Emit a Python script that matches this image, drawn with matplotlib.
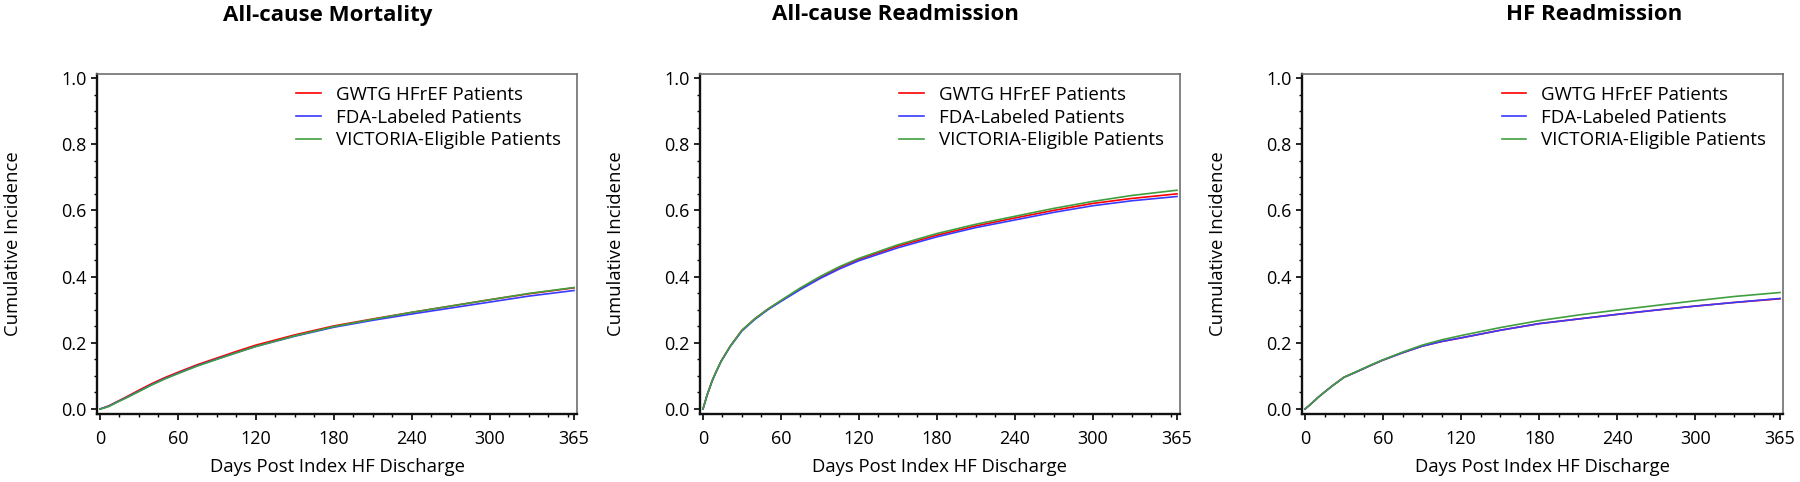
import matplotlib
matplotlib.use("Agg")
import matplotlib.pyplot as plt
from matplotlib.ticker import MultipleLocator

plt.rcParams["font.family"] = ["Open Sans", "DejaVu Sans"]

titles = ["All-cause Mortality", "All-cause Readmission", "HF Readmission"]
series_names = ["GWTG HFrEF Patients", "FDA-Labeled Patients", "VICTORIA-Eligible Patients"]
series_colors = ["#ff0000", "#3a3aff", "#3f9f3f"]

days = [0, 3, 7, 10, 14, 21, 30, 40, 50, 60, 75, 90, 105, 120, 150, 180, 210, 240, 270, 300, 330, 365]

# All-cause mortality
mort_gwtg = [0.0, 0.004, 0.010, 0.016, 0.024, 0.038, 0.057, 0.077, 0.095, 0.111, 0.134, 0.154, 0.174,
             0.193, 0.224, 0.251, 0.272, 0.292, 0.311, 0.330, 0.348, 0.366]
mort_fda = [0.0, 0.004, 0.009, 0.015, 0.023, 0.036, 0.054, 0.074, 0.092, 0.108, 0.131, 0.151, 0.170,
            0.189, 0.220, 0.247, 0.268, 0.287, 0.305, 0.323, 0.341, 0.358]
mort_vic = [0.0, 0.003, 0.008, 0.014, 0.022, 0.035, 0.053, 0.073, 0.091, 0.107, 0.130, 0.150, 0.170,
            0.189, 0.221, 0.249, 0.271, 0.292, 0.311, 0.330, 0.349, 0.367]

# All-cause readmission
read_gwtg = [0.0, 0.040, 0.085, 0.112, 0.145, 0.190, 0.238, 0.273, 0.302, 0.327, 0.364, 0.397, 0.427,
             0.452, 0.492, 0.525, 0.553, 0.577, 0.600, 0.621, 0.636, 0.650]
read_fda = [0.0, 0.040, 0.084, 0.111, 0.144, 0.189, 0.236, 0.271, 0.300, 0.325, 0.361, 0.394, 0.423,
            0.448, 0.487, 0.520, 0.548, 0.571, 0.594, 0.614, 0.629, 0.642]
read_vic = [0.0, 0.040, 0.085, 0.112, 0.145, 0.190, 0.238, 0.273, 0.302, 0.328, 0.366, 0.400, 0.430,
            0.455, 0.496, 0.530, 0.558, 0.582, 0.606, 0.627, 0.645, 0.661]

# HF readmission
hf_gwtg = [0.0, 0.010, 0.024, 0.035, 0.048, 0.070, 0.096, 0.113, 0.131, 0.148, 0.170, 0.190, 0.204,
           0.215, 0.238, 0.258, 0.272, 0.286, 0.299, 0.311, 0.322, 0.333]
hf_fda = [0.0, 0.010, 0.024, 0.035, 0.048, 0.070, 0.096, 0.113, 0.131, 0.148, 0.170, 0.190, 0.204,
          0.215, 0.238, 0.258, 0.272, 0.286, 0.299, 0.311, 0.322, 0.334]
hf_vic = [0.0, 0.010, 0.024, 0.035, 0.048, 0.070, 0.096, 0.114, 0.132, 0.149, 0.172, 0.193, 0.209,
          0.222, 0.246, 0.267, 0.284, 0.299, 0.313, 0.327, 0.340, 0.352]

panels = [
    [mort_gwtg, mort_fda, mort_vic],
    [read_gwtg, read_fda, read_vic],
    [hf_gwtg, hf_fda, hf_vic],
]

W, H = 1800, 482
fig = plt.figure(figsize=(W / 100, H / 100), dpi=100)

# axes frames in pixels (left spine, right spine), shared top/bottom
frames = [(97, 577), (700, 1180), (1302, 1783)]
top_px, bottom_px = 74, 414
title_centers = [328, 895, 1594]

for idx, (title, curves) in enumerate(zip(titles, panels)):
    left_px, right_px = frames[idx]
    width_px = right_px - left_px
    axis = fig.add_axes([left_px / W, 1 - bottom_px / H, width_px / W,
                         (bottom_px - top_px) / H])
    for order in range(3):
        axis.plot(days, curves[order], color=series_colors[order], linewidth=1.2,
                  label=series_names[order])

    axis.set_xlim(-2.3, 367.3)
    axis.set_ylim(-0.015, 1.012)
    axis.set_xticks([0, 60, 120, 180, 240, 300, 365])
    axis.set_yticks([0.0, 0.2, 0.4, 0.6, 0.8, 1.0])
    axis.set_yticklabels(["0.0", "0.2", "0.4", "0.6", "0.8", "1.0"])
    axis.xaxis.set_minor_locator(MultipleLocator(15))
    axis.yaxis.set_minor_locator(MultipleLocator(0.05))
    axis.tick_params(which="major", direction="out", length=4.5, width=1.2, labelsize=13)
    axis.tick_params(which="minor", direction="out", length=2.5, width=1.0)
    axis.tick_params(axis="y", which="major", pad=3)
    axis.tick_params(axis="x", which="major", pad=7)

    for side in ["left", "bottom"]:
        axis.spines[side].set_linewidth(1.7)
        axis.spines[side].set_color("#111111")
    for side in ["top", "right"]:
        axis.spines[side].set_linewidth(1.2)
        axis.spines[side].set_color("#6e6e6e")

    axis.set_xlabel("Days Post Index HF Discharge", fontsize=13.3, va="center")
    axis.xaxis.set_label_coords(0.5, -(467 - bottom_px) / (bottom_px - top_px))
    axis.set_ylabel("Cumulative Incidence", fontsize=13.3, va="center")
    axis.yaxis.set_label_coords(-84 / width_px, 0.5)

    axis.legend(loc="upper left", bbox_to_anchor=(0.415, 0.965), frameon=False, fontsize=13.5,
                handlelength=1.3, handletextpad=0.8, labelspacing=0.25,
                borderaxespad=0, borderpad=0)

    fig.text(title_centers[idx] / W, 1 - 15 / H, title, ha="center", va="center",
             fontsize=16, fontweight="bold")

fig.savefig("out.png", dpi=100)
